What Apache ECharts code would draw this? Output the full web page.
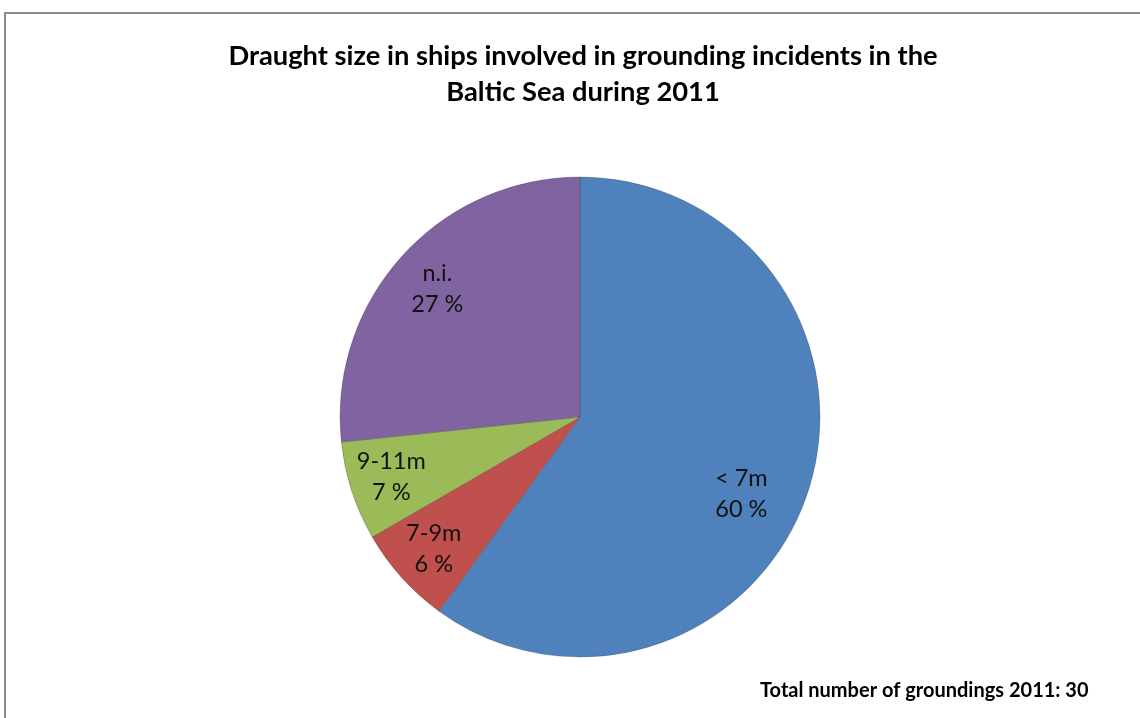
<!DOCTYPE html>
<html>
<head>
<meta charset="utf-8">
<script src="https://cdn.jsdelivr.net/npm/echarts@6/dist/echarts.min.js"></script>
<style>
html,body{margin:0;padding:0;background:#fff;}
#chart{width:1140px;height:718px;}
</style>
</head>
<body>
<div id="chart"></div>
<script>
var categories = ['< 7m', '7-9m', '9-11m', 'n.i.'];
var counts = [18, 2, 2, 8];
var pctLabels = ['60 %', '6 %', '7 %', '27 %'];
var colors = ['#4F81BD', '#C0504D', '#9BBB59', '#8064A2'];
var titleText = 'Draught size in ships involved in grounding incidents in the\nBaltic Sea during 2011';
var footText = 'Total number of groundings 2011: 30';

var CX = 580, CY = 417, R = 240;
var labelFrac = [0.745, 0.82, 0.825, 0.80];
var labelAngleShift = [7.5, 0, 0.4, 0];

var total = counts.reduce(function(a,b){return a+b;},0);
var cum = [];
(function(){ var s=0; for (var i=0;i<counts.length;i++){ cum.push(s); s+=counts[i]; } })();

var chart = echarts.init(document.getElementById('chart'), null, {renderer:'canvas'});
var option = {
  backgroundColor: '#fff',
  animation: false,
  title: {
    text: titleText,
    left: 578, top: 33, textAlign: 'center',
    textStyle: {fontFamily: 'Lato', fontWeight: 'bold', fontSize: 27.3, color: '#000', lineHeight: 36}
  },
  graphic: [
    {type: 'rect', shape: {x: 5, y: 13, width: 1200, height: 800}, style: {fill: 'none', stroke: '#8a8a8a', lineWidth: 2}, silent: true},
    {type: 'text', left: 760, top: 681, style: {text: footText, font: 'bold 20px Lato', fill: '#000'}}
  ],
  series: [{
    type: 'pie',
    center: [CX, CY],
    radius: R,
    startAngle: 90,
    clockwise: true,
    avoidLabelOverlap: false,
    data: categories.map(function(c, i){ return {name: c, value: counts[i], itemStyle: {color: colors[i]}}; }),
    itemStyle: {borderColor: 'rgba(60,60,60,0.35)', borderWidth: 0.8},
    label: {
      show: true,
      position: 'inside',
      formatter: function(p){ return p.name + '\n' + pctLabels[p.dataIndex]; },
      fontFamily: 'Lato', fontSize: 23.5, color: '#111', lineHeight: 31, align: 'center'
    },
    labelLine: {show: false},
    labelLayout: function(p){
      var i = p.dataIndex;
      var mid = -Math.PI/2 + 2*Math.PI*(cum[i] + counts[i]/2)/total + labelAngleShift[i]*Math.PI/180;
      return {
        x: CX + labelFrac[i]*R*Math.cos(mid),
        y: CY + labelFrac[i]*R*Math.sin(mid),
        align: 'center', verticalAlign: 'middle'
      };
    },
    emphasis: {disabled: true}
  }]
};
chart.setOption(option);
</script>
</body>
</html>
